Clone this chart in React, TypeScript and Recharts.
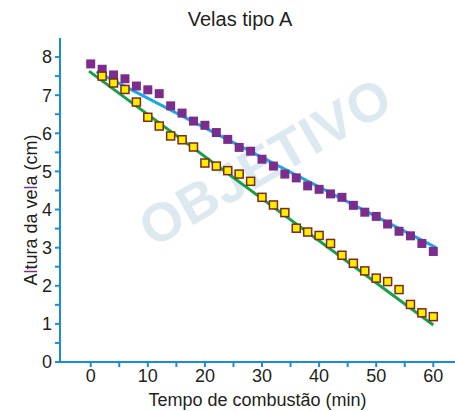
import React from 'react';
import { ComposedChart, Scatter, XAxis, YAxis } from 'recharts';

const purpleTimes = [0, 2, 4, 6, 8, 10, 12, 14, 16, 18, 20, 22, 24, 26, 28, 30, 32, 34, 36, 38, 40, 42, 44, 46, 48, 50, 52, 54, 56, 58, 60];
const purpleHeights = [7.82, 7.68, 7.53, 7.43, 7.24, 7.14, 7.04, 6.72, 6.53, 6.32, 6.21, 6.02, 5.84, 5.63, 5.53, 5.32, 5.14, 4.93, 4.83, 4.62, 4.53, 4.41, 4.32, 4.11, 3.93, 3.82, 3.62, 3.43, 3.31, 3.11, 2.9];
const yellowTimes = [2, 4, 6, 8, 10, 12, 14, 16, 18, 20, 22, 24, 26, 28, 30, 32, 34, 36, 38, 40, 42, 44, 46, 48, 50, 52, 54, 56, 58, 60];
const yellowHeights = [7.5, 7.32, 7.15, 6.82, 6.42, 6.19, 5.93, 5.83, 5.64, 5.22, 5.14, 5.02, 4.93, 4.74, 4.32, 4.12, 3.92, 3.51, 3.41, 3.32, 3.11, 2.8, 2.59, 2.39, 2.2, 2.11, 1.9, 1.51, 1.29, 1.19];
const blueFitTimes = [1, 60.5];
const blueFitHeights = [7.62, 3.0];
const greenFitTimes = [-0.3, 60];
const greenFitHeights = [7.63, 0.97];
const xTicks = [0, 5, 10, 15, 20, 25, 30, 35, 40, 45, 50, 55, 60];
const yTicks = [0, 0.5, 1, 1.5, 2, 2.5, 3, 3.5, 4, 4.5, 5, 5.5, 6, 6.5, 7, 7.5, 8];

const purpleData = purpleTimes.map((t, i) => ({ t, h: purpleHeights[i] }));
const yellowData = yellowTimes.map((t, i) => ({ t, h: yellowHeights[i] }));
const blueFit = blueFitTimes.map((t, i) => ({ t, h: blueFitHeights[i] }));
const greenFit = greenFitTimes.map((t, i) => ({ t, h: greenFitHeights[i] }));

const AXIS = '#1a8cd8';
const TEXT = '#231f20';
const FONT = '"Liberation Sans", Arial, sans-serif';

const PurpleSquare = (props: any) => {
  const { cx, cy } = props;
  return <rect x={cx - 4.5} y={cy - 4.5} width={9} height={9} fill="#7b2d8e" />;
};
const YellowSquare = (props: any) => {
  const { cx, cy } = props;
  return <rect x={cx - 4} y={cy - 4} width={8} height={8} fill="#ffed00" stroke="#7a2a1c" strokeWidth={1.5} />;
};
const NoShape = () => <g />;

const YLabel = (props: any) => {
  const vb = props.viewBox || {};
  const cx = 31;
  const cy = (vb.y ?? 38) + (vb.height ?? 324) / 2 + 10;
  return (
    <text
      x={cx}
      y={cy}
      transform={`rotate(-90, ${cx}, ${cy})`}
      textAnchor="middle"
      dominantBaseline="central"
      fontSize={18}
      fontFamily={FONT}
      fill={TEXT}
    >
      <tspan>A</tspan>
      <tspan fill="#7b2d8e">l</tspan>
      <tspan>tura da ve</tspan>
      <tspan fill="#7b2d8e">l</tspan>
      <tspan>a (cm)</tspan>
    </text>
  );
};

export default function App() {
  return (
    <div style={{ position: 'absolute', left: 0, top: 0, width: 455, height: 411, background: '#fff', overflow: 'hidden' }}>
      <div
        style={{
          position: 'absolute',
          left: 128,
          top: 205,
          fontFamily: FONT,
          fontWeight: 900,
          fontSize: 54,
          color: '#dce9f0',
          transform: 'rotate(-30deg)',
          transformOrigin: 'left top',
          letterSpacing: 1,
          whiteSpace: 'nowrap',
        }}
      >
        OBJETIVO
      </div>
      <div
        style={{
          position: 'absolute',
          left: 0,
          top: 8,
          width: 480,
          textAlign: 'center',
          fontFamily: FONT,
          fontSize: 20,
          color: TEXT,
        }}
      >
        Velas tipo A
      </div>
      <div style={{ position: 'absolute', left: 0, top: 0 }}>
        <ComposedChart width={455} height={411} margin={{ top: 38, right: 0, bottom: 9, left: 0 }}>
          <XAxis
            type="number"
            dataKey="t"
            domain={[-5.38, 63.8]}
            allowDataOverflow
            ticks={xTicks}
            interval={0}
            tickFormatter={(v: number) => (v % 10 === 0 ? String(v) : '')}
            tickSize={5}
            tickMargin={2}
            height={40}
            axisLine={{ stroke: AXIS, strokeWidth: 2 }}
            tickLine={{ stroke: AXIS, strokeWidth: 2 }}
            tick={{ fill: TEXT, fontSize: 18, fontFamily: FONT }}
            label={{ value: 'Tempo de combustão (min)', position: 'insideBottom', offset: -4, fill: TEXT, fontSize: 18, fontFamily: FONT }}
          />
          <YAxis
            type="number"
            dataKey="h"
            domain={[0, 8.5]}
            allowDataOverflow
            ticks={yTicks}
            interval={0}
            tickFormatter={(v: number) => (Number.isInteger(v) ? String(v) : '')}
            tickSize={5}
            tickMargin={3}
            width={60}
            axisLine={{ stroke: AXIS, strokeWidth: 2 }}
            tickLine={{ stroke: AXIS, strokeWidth: 2 }}
            tick={{ fill: TEXT, fontSize: 18, fontFamily: FONT }}
            label={<YLabel />}
          />
          <Scatter data={greenFit} dataKey="h" line={{ stroke: '#16a04a', strokeWidth: 3 }} shape={<NoShape />} isAnimationActive={false} />
          <Scatter data={blueFit} dataKey="h" line={{ stroke: '#1ba7e6', strokeWidth: 3 }} shape={<NoShape />} isAnimationActive={false} />
          <Scatter data={purpleData} dataKey="h" shape={<PurpleSquare />} isAnimationActive={false} />
          <Scatter data={yellowData} dataKey="h" shape={<YellowSquare />} isAnimationActive={false} />
        </ComposedChart>
      </div>
    </div>
  );
}
